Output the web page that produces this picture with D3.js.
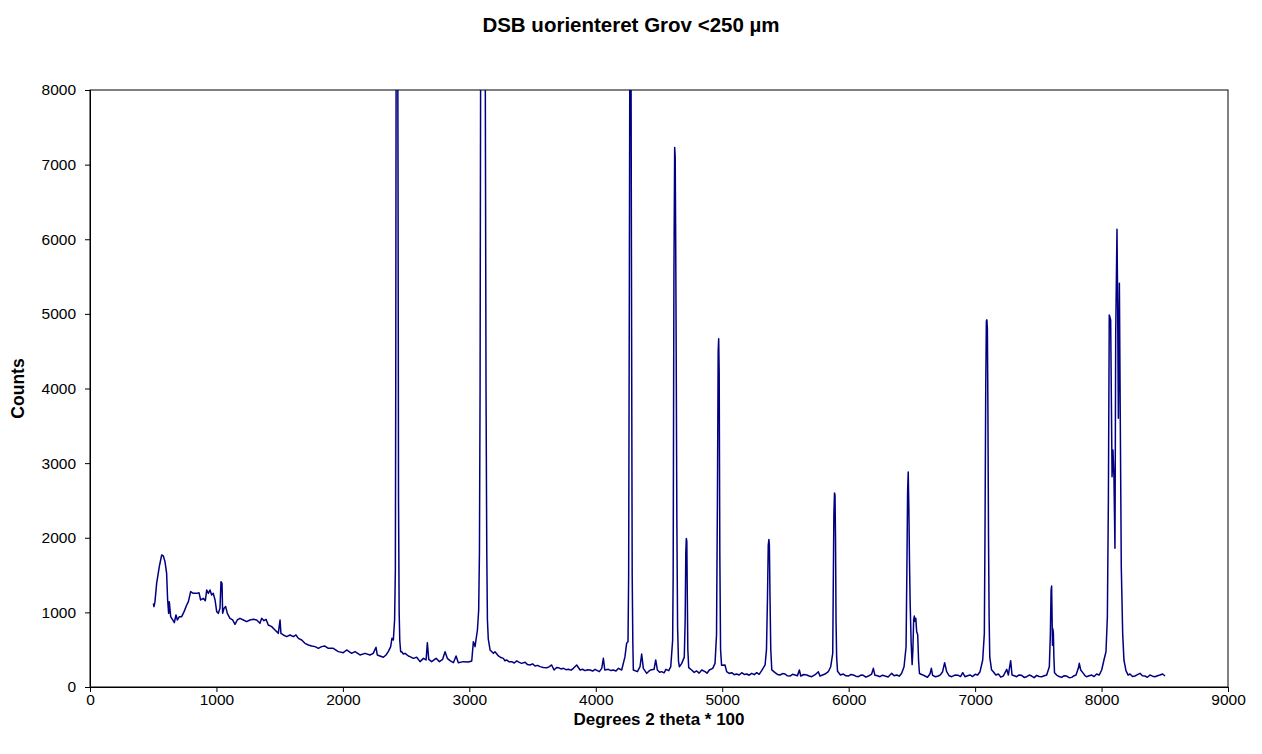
<!DOCTYPE html>
<html>
<head>
    <script src="https://d3js.org/d3.v7.min.js"></script>
    <style>
        body { margin: 0; background: #fff; }
        text { font-family: "Liberation Sans", Arial, sans-serif; }
        .axis path, .axis line { stroke: #000; }
        .axis text { font-size: 15.5px; fill: #000; }
    </style>
</head>
<body>
    <svg id="chart" width="1262" height="754"></svg>

    <script>
        var chartTitle = "DSB uorienteret Grov <250 µm";
        var xTitle = "Degrees 2 theta * 100";
        var yTitle = "Counts";

        var xTicks = [0, 1000, 2000, 3000, 4000, 5000, 6000, 7000, 8000, 9000];
        var yTicks = [0, 1000, 2000, 3000, 4000, 5000, 6000, 7000, 8000];

        // [degrees 2 theta * 100, counts]
        var scan = [
            [501,1121],[506,1077],[514,1144],[527,1389],[548,1613],[567,1769],[580,1756],[593,1680],
            [606,1523],[614,1166],[622,987],[627,1144],[638,943],[654,898],[667,862],[680,965],
            [691,898],[707,943],[725,943],[744,1010],[765,1099],[778,1144],[796,1278],[817,1255],
            [844,1255],[862,1264],[875,1166],[896,1188],[912,1157],[923,1300],[936,1255],[949,1300],
            [962,1233],[975,1255],[989,1166],[1002,1010],[1015,987],[1028,1054],[1036,1412],[1044,1389],
            [1049,987],[1060,1054],[1073,1077],[1086,987],[1107,920],[1128,898],[1147,840],[1165,898],
            [1186,920],[1213,898],[1239,876],[1265,898],[1292,907],[1318,898],[1344,853],[1358,920],
            [1376,889],[1392,907],[1410,831],[1437,809],[1463,764],[1489,719],[1503,898],[1510,719],
            [1529,697],[1555,675],[1582,697],[1608,675],[1629,697],[1648,652],[1674,630],[1700,585],
            [1727,563],[1753,549],[1780,541],[1806,518],[1832,541],[1858,549],[1885,518],[1924,518],
            [1964,474],[2003,460],[2030,496],[2069,451],[2096,474],[2135,429],[2175,451],[2214,429],
            [2240,451],[2262,532],[2272,429],[2293,415],[2320,398],[2341,429],[2359,474],[2378,541],
            [2388,652],[2399,630],[2409,898],[2415,1568],[2418,4000],[2421,8500],[2425,9800],[2432,9800],
            [2436,7000],[2440,2500],[2445,1000],[2450,620],[2457,474],[2465,473],[2478,442],[2492,451],
            [2518,415],[2531,407],[2557,384],[2584,398],[2610,340],[2637,384],[2658,362],[2668,594],
            [2679,371],[2702,340],[2737,384],[2763,340],[2789,371],[2808,473],[2826,384],[2847,353],
            [2874,326],[2895,416],[2913,326],[2953,340],[2992,335],[3019,349],[3032,608],[3045,541],
            [3064,764],[3074,1032],[3080,1800],[3085,4000],[3090,9000],[3100,11000],[3115,11000],
            [3125,9000],[3132,4000],[3138,1800],[3143,900],[3150,640],[3164,496],[3190,451],[3203,473],
            [3230,416],[3250,395],[3269,384],[3282,352],[3295,362],[3315,338],[3335,340],[3355,322],
            [3375,349],[3395,330],[3414,317],[3441,331],[3460,300],[3480,295],[3500,310],[3520,282],
            [3540,290],[3559,273],[3585,262],[3612,259],[3630,270],[3651,295],[3670,228],[3690,262],
            [3704,259],[3725,242],[3744,250],[3765,232],[3783,237],[3805,226],[3823,250],[3849,295],
            [3876,228],[3895,238],[3915,219],[3935,232],[3955,228],[3975,214],[3994,237],[4028,206],
            [4047,250],[4060,384],[4071,228],[4100,237],[4120,220],[4139,228],[4160,215],[4179,250],
            [4205,228],[4231,407],[4244,585],[4255,608],[4260,1500],[4265,5000],[4270,9000],[4278,9000],
            [4283,5000],[4288,1500],[4293,600],[4297,228],[4329,206],[4350,273],[4363,442],[4376,250],
            [4403,183],[4420,212],[4434,228],[4461,237],[4474,362],[4487,228],[4505,198],[4521,206],
            [4540,190],[4555,237],[4577,219],[4593,273],[4608,630],[4612,1500],[4618,5500],[4624,7230],
            [4628,7100],[4632,6000],[4636,4500],[4641,2300],[4647,800],[4654,350],[4661,272],[4680,317],
            [4700,400],[4707,900],[4712,1800],[4716,1990],[4720,1950],[4724,1200],[4728,500],[4735,260],
            [4758,228],[4778,196],[4798,215],[4818,186],[4838,228],[4864,206],[4880,185],[4898,228],
            [4925,250],[4943,317],[4955,700],[4962,2500],[4968,4500],[4972,4665],[4976,4200],[4981,1800],
            [4987,500],[4995,290],[5022,295],[5035,206],[5055,182],[5075,192],[5095,165],[5114,174],
            [5134,160],[5154,192],[5174,168],[5194,174],[5213,158],[5233,183],[5253,165],[5273,192],
            [5292,170],[5312,219],[5339,295],[5350,500],[5358,1200],[5364,1900],[5369,1975],[5373,1900],
            [5378,1200],[5384,500],[5392,230],[5418,192],[5437,168],[5457,161],[5477,180],[5497,174],
            [5516,150],[5536,147],[5556,170],[5576,161],[5595,152],[5610,228],[5621,147],[5645,168],
            [5668,161],[5688,148],[5708,138],[5735,165],[5760,205],[5773,147],[5793,160],[5813,174],
            [5839,205],[5858,272],[5874,451],[5878,1300],[5883,2300],[5888,2600],[5892,2570],[5896,2000],
            [5900,900],[5905,400],[5912,210],[5935,160],[5958,174],[5978,150],[5998,147],[6018,168],
            [6037,161],[6057,145],[6077,138],[6097,160],[6116,156],[6136,132],[6156,147],[6182,174],
            [6195,250],[6208,156],[6228,150],[6248,138],[6268,158],[6288,147],[6312,135],[6340,183],
            [6360,150],[6380,161],[6400,145],[6419,183],[6438,272],[6454,540],[6460,1500],[6466,2600],
            [6471,2880],[6476,2400],[6481,1700],[6486,1150],[6494,600],[6502,300],[6508,500],[6514,900],
            [6519,950],[6525,880],[6531,920],[6538,740],[6546,700],[6553,350],[6560,180],[6582,165],
            [6604,147],[6623,130],[6643,174],[6654,250],[6664,156],[6686,138],[6709,147],[6725,162],
            [6743,205],[6759,326],[6775,205],[6795,150],[6815,138],[6840,160],[6867,156],[6885,140],
            [6902,192],[6920,138],[6940,150],[6960,161],[6980,140],[7000,170],[7020,160],[7039,205],
            [7060,362],[7073,719],[7078,2000],[7084,4000],[7089,4900],[7093,4920],[7097,4800],[7101,3800],
            [7106,2000],[7111,900],[7116,400],[7130,230],[7144,205],[7164,160],[7184,174],[7203,132],
            [7223,147],[7250,237],[7263,161],[7281,353],[7292,161],[7310,150],[7329,138],[7348,162],
            [7368,156],[7388,128],[7408,138],[7428,160],[7447,147],[7467,125],[7487,156],[7507,140],
            [7527,138],[7547,150],[7566,161],[7587,272],[7595,700],[7601,1300],[7605,1353],[7609,900],
            [7612,560],[7615,780],[7619,720],[7623,400],[7628,190],[7645,160],[7665,140],[7685,129],
            [7704,152],[7724,147],[7744,125],[7764,129],[7780,148],[7798,160],[7816,250],[7824,317],
            [7835,228],[7856,183],[7870,150],[7882,138],[7902,150],[7922,160],[7941,140],[7961,174],
            [7981,160],[8001,228],[8019,362],[8035,473],[8046,942],[8054,2506],[8061,4985],[8072,4918],
            [8083,2818],[8090,3176],[8098,2818],[8106,1858],[8112,4739],[8122,6133],[8127,5186],[8133,3600],
            [8141,5409],[8148,3622],[8156,1612],[8167,719],[8177,362],[8193,219],[8210,160],[8225,174],
            [8245,140],[8264,147],[8284,165],[8304,183],[8323,150],[8343,147],[8363,130],[8383,160],
            [8403,145],[8423,138],[8442,150],[8462,160],[8483,174],[8502,147]
        ];

        var margin = { left: 90, top: 90, right: 34, bottom: 67 };
        var width = 1262 - margin.left - margin.right;
        var height = 754 - margin.top - margin.bottom;

        var svg = d3.select("#chart");

        var x = d3.scaleLinear().domain([0, 9000]).range([0, width]);
        var y = d3.scaleLinear().domain([0, 8000]).range([height, 0]);

        svg.append("defs").append("clipPath")
            .attr("id", "plot-clip")
            .append("rect")
            .attr("width", width)
            .attr("height", height);

        var g = svg.append("g")
            .attr("transform", "translate(" + margin.left + "," + margin.top + ")");

        // plot frame
        g.append("rect")
            .attr("width", width)
            .attr("height", height)
            .attr("fill", "none")
            .attr("stroke", "#000")
            .attr("stroke-width", 1);

        g.append("g")
            .attr("class", "axis")
            .attr("transform", "translate(0," + height + ")")
            .call(d3.axisBottom(x).tickValues(xTicks).tickFormat(d3.format("d")).tickSize(5).tickPadding(2));

        g.append("g")
            .attr("class", "axis")
            .call(d3.axisLeft(y).tickValues(yTicks).tickFormat(d3.format("d")).tickSize(5).tickPadding(9));

        var line = d3.line()
            .x(function (d) { return x(d[0]); })
            .y(function (d) { return y(d[1]); });

        g.append("path")
            .datum(scan)
            .attr("clip-path", "url(#plot-clip)")
            .attr("fill", "none")
            .attr("stroke", "#000080")
            .attr("stroke-width", 1.5)
            .attr("stroke-linejoin", "round")
            .attr("d", line);

        svg.append("text")
            .attr("x", 631)
            .attr("y", 32)
            .attr("text-anchor", "middle")
            .attr("font-size", 20.5)
            .attr("font-weight", "bold")
            .text(chartTitle);

        svg.append("text")
            .attr("x", margin.left + width / 2)
            .attr("y", 725)
            .attr("text-anchor", "middle")
            .attr("font-size", 17)
            .attr("font-weight", "bold")
            .text(xTitle);

        svg.append("text")
            .attr("transform", "translate(24," + (margin.top + height / 2) + ") rotate(-90)")
            .attr("text-anchor", "middle")
            .attr("font-size", 17.5)
            .attr("font-weight", "bold")
            .text(yTitle);
    </script>
</body>
</html>
